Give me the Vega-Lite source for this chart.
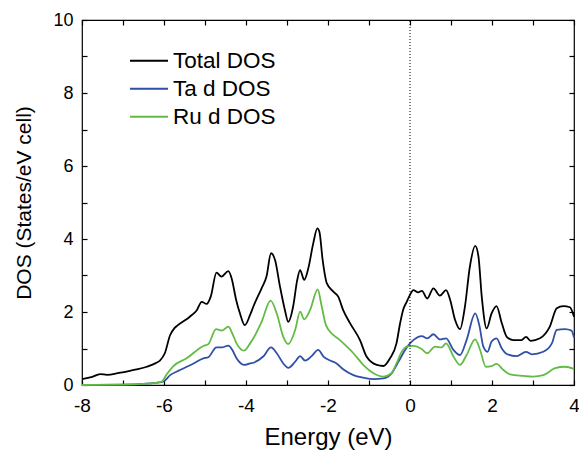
{
  "$schema": "https://vega.github.io/schema/vega-lite/v6.json",
  "width": 492,
  "height": 365,
  "autosize": "none",
  "padding": {"left": 82, "top": 20, "right": 5, "bottom": 70},
  "background": "white",
  "config": {
    "font": "Liberation Sans",
    "view": {"stroke": "black", "strokeWidth": 1.2},
    "axis": {
      "domain": false,
      "tickColor": "black",
      "labelColor": "black",
      "titleColor": "black",
      "grid": false,
      "labelFont": "Liberation Sans",
      "titleFont": "Liberation Sans",
      "labelFontSize": 18,
      "titleFontWeight": "normal",
      "ticks": true,
      "tickWidth": 1.2,
      "tickSize": 5,
      "offset": -5,
      "zindex": 1
    },
    "legend": {
      "labelFont": "Liberation Sans"
    }
  },
  "datasets": {
    "dos": [
      {"s": "Total DOS", "E": -8.0, "D": 0.16},
      {"s": "Total DOS", "E": -7.75, "D": 0.22},
      {"s": "Total DOS", "E": -7.56, "D": 0.30},
      {"s": "Total DOS", "E": -7.39, "D": 0.28},
      {"s": "Total DOS", "E": -7.1, "D": 0.33},
      {"s": "Total DOS", "E": -6.83, "D": 0.39},
      {"s": "Total DOS", "E": -6.42, "D": 0.50},
      {"s": "Total DOS", "E": -6.2, "D": 0.60},
      {"s": "Total DOS", "E": -6.1, "D": 0.67},
      {"s": "Total DOS", "E": -5.98, "D": 0.87},
      {"s": "Total DOS", "E": -5.85, "D": 1.37},
      {"s": "Total DOS", "E": -5.75, "D": 1.55},
      {"s": "Total DOS", "E": -5.66, "D": 1.64},
      {"s": "Total DOS", "E": -5.37, "D": 1.87},
      {"s": "Total DOS", "E": -5.2, "D": 2.05},
      {"s": "Total DOS", "E": -5.08, "D": 2.28},
      {"s": "Total DOS", "E": -4.96, "D": 2.22},
      {"s": "Total DOS", "E": -4.86, "D": 2.42},
      {"s": "Total DOS", "E": -4.72, "D": 3.08},
      {"s": "Total DOS", "E": -4.6, "D": 2.97},
      {"s": "Total DOS", "E": -4.43, "D": 3.12},
      {"s": "Total DOS", "E": -4.35, "D": 2.92},
      {"s": "Total DOS", "E": -4.24, "D": 2.33},
      {"s": "Total DOS", "E": -4.15, "D": 1.97},
      {"s": "Total DOS", "E": -4.03, "D": 1.64},
      {"s": "Total DOS", "E": -3.9, "D": 1.92},
      {"s": "Total DOS", "E": -3.82, "D": 2.15},
      {"s": "Total DOS", "E": -3.62, "D": 2.65},
      {"s": "Total DOS", "E": -3.5, "D": 2.97},
      {"s": "Total DOS", "E": -3.39, "D": 3.61},
      {"s": "Total DOS", "E": -3.29, "D": 3.42},
      {"s": "Total DOS", "E": -3.17, "D": 2.69},
      {"s": "Total DOS", "E": -3.05, "D": 2.05},
      {"s": "Total DOS", "E": -2.97, "D": 1.73},
      {"s": "Total DOS", "E": -2.85, "D": 2.15},
      {"s": "Total DOS", "E": -2.75, "D": 2.88},
      {"s": "Total DOS", "E": -2.68, "D": 3.15},
      {"s": "Total DOS", "E": -2.58, "D": 2.88},
      {"s": "Total DOS", "E": -2.48, "D": 3.2},
      {"s": "Total DOS", "E": -2.36, "D": 3.88},
      {"s": "Total DOS", "E": -2.26, "D": 4.29},
      {"s": "Total DOS", "E": -2.21, "D": 4.2},
      {"s": "Total DOS", "E": -2.13, "D": 3.42},
      {"s": "Total DOS", "E": -2.03, "D": 2.79},
      {"s": "Total DOS", "E": -1.87, "D": 2.56},
      {"s": "Total DOS", "E": -1.75, "D": 2.42},
      {"s": "Total DOS", "E": -1.63, "D": 2.05},
      {"s": "Total DOS", "E": -1.46, "D": 1.69},
      {"s": "Total DOS", "E": -1.22, "D": 1.23},
      {"s": "Total DOS", "E": -1.06, "D": 0.78},
      {"s": "Total DOS", "E": -0.81, "D": 0.55},
      {"s": "Total DOS", "E": -0.65, "D": 0.52},
      {"s": "Total DOS", "E": -0.49, "D": 0.73},
      {"s": "Total DOS", "E": -0.33, "D": 1.14},
      {"s": "Total DOS", "E": -0.24, "D": 1.7},
      {"s": "Total DOS", "E": -0.17, "D": 2.05},
      {"s": "Total DOS", "E": -0.08, "D": 2.28},
      {"s": "Total DOS", "E": 0.0, "D": 2.47},
      {"s": "Total DOS", "E": 0.08, "D": 2.6},
      {"s": "Total DOS", "E": 0.2, "D": 2.54},
      {"s": "Total DOS", "E": 0.29, "D": 2.58},
      {"s": "Total DOS", "E": 0.42, "D": 2.37},
      {"s": "Total DOS", "E": 0.57, "D": 2.65},
      {"s": "Total DOS", "E": 0.73, "D": 2.45},
      {"s": "Total DOS", "E": 0.88, "D": 2.6},
      {"s": "Total DOS", "E": 0.98, "D": 2.33},
      {"s": "Total DOS", "E": 1.1, "D": 1.78},
      {"s": "Total DOS", "E": 1.22, "D": 1.53},
      {"s": "Total DOS", "E": 1.34, "D": 2.15},
      {"s": "Total DOS", "E": 1.46, "D": 3.24},
      {"s": "Total DOS", "E": 1.59, "D": 3.81},
      {"s": "Total DOS", "E": 1.67, "D": 3.52},
      {"s": "Total DOS", "E": 1.75, "D": 2.42},
      {"s": "Total DOS", "E": 1.87, "D": 1.55},
      {"s": "Total DOS", "E": 1.99, "D": 1.96},
      {"s": "Total DOS", "E": 2.11, "D": 2.16},
      {"s": "Total DOS", "E": 2.24, "D": 1.69},
      {"s": "Total DOS", "E": 2.36, "D": 1.32},
      {"s": "Total DOS", "E": 2.52, "D": 1.23},
      {"s": "Total DOS", "E": 2.72, "D": 1.23},
      {"s": "Total DOS", "E": 2.83, "D": 1.32},
      {"s": "Total DOS", "E": 2.94, "D": 1.21},
      {"s": "Total DOS", "E": 3.17, "D": 1.28},
      {"s": "Total DOS", "E": 3.41, "D": 1.6},
      {"s": "Total DOS", "E": 3.58, "D": 2.1},
      {"s": "Total DOS", "E": 3.74, "D": 2.16},
      {"s": "Total DOS", "E": 3.9, "D": 2.13},
      {"s": "Total DOS", "E": 4.0, "D": 1.87},

      {"s": "Ta d DOS", "E": -8.0, "D": 0.0},
      {"s": "Ta d DOS", "E": -7.0, "D": 0.01},
      {"s": "Ta d DOS", "E": -6.5, "D": 0.03},
      {"s": "Ta d DOS", "E": -6.2, "D": 0.06},
      {"s": "Ta d DOS", "E": -6.02, "D": 0.09},
      {"s": "Ta d DOS", "E": -5.85, "D": 0.27},
      {"s": "Ta d DOS", "E": -5.61, "D": 0.41},
      {"s": "Ta d DOS", "E": -5.28, "D": 0.59},
      {"s": "Ta d DOS", "E": -5.04, "D": 0.73},
      {"s": "Ta d DOS", "E": -4.92, "D": 0.76},
      {"s": "Ta d DOS", "E": -4.72, "D": 1.03},
      {"s": "Ta d DOS", "E": -4.59, "D": 1.03},
      {"s": "Ta d DOS", "E": -4.43, "D": 1.08},
      {"s": "Ta d DOS", "E": -4.33, "D": 0.95},
      {"s": "Ta d DOS", "E": -4.23, "D": 0.73},
      {"s": "Ta d DOS", "E": -4.05, "D": 0.55},
      {"s": "Ta d DOS", "E": -3.9, "D": 0.59},
      {"s": "Ta d DOS", "E": -3.82, "D": 0.61},
      {"s": "Ta d DOS", "E": -3.58, "D": 0.78},
      {"s": "Ta d DOS", "E": -3.39, "D": 1.03},
      {"s": "Ta d DOS", "E": -3.25, "D": 0.87},
      {"s": "Ta d DOS", "E": -3.09, "D": 0.59},
      {"s": "Ta d DOS", "E": -2.97, "D": 0.47},
      {"s": "Ta d DOS", "E": -2.8, "D": 0.64},
      {"s": "Ta d DOS", "E": -2.68, "D": 0.79},
      {"s": "Ta d DOS", "E": -2.56, "D": 0.67},
      {"s": "Ta d DOS", "E": -2.4, "D": 0.79},
      {"s": "Ta d DOS", "E": -2.24, "D": 0.96},
      {"s": "Ta d DOS", "E": -2.11, "D": 0.78},
      {"s": "Ta d DOS", "E": -1.95, "D": 0.67},
      {"s": "Ta d DOS", "E": -1.79, "D": 0.59},
      {"s": "Ta d DOS", "E": -1.63, "D": 0.43},
      {"s": "Ta d DOS", "E": -1.38, "D": 0.27},
      {"s": "Ta d DOS", "E": -1.14, "D": 0.2},
      {"s": "Ta d DOS", "E": -0.89, "D": 0.16},
      {"s": "Ta d DOS", "E": -0.65, "D": 0.18},
      {"s": "Ta d DOS", "E": -0.45, "D": 0.32},
      {"s": "Ta d DOS", "E": -0.28, "D": 0.64},
      {"s": "Ta d DOS", "E": -0.12, "D": 0.96},
      {"s": "Ta d DOS", "E": 0.0, "D": 1.14},
      {"s": "Ta d DOS", "E": 0.08, "D": 1.23},
      {"s": "Ta d DOS", "E": 0.29, "D": 1.34},
      {"s": "Ta d DOS", "E": 0.42, "D": 1.28},
      {"s": "Ta d DOS", "E": 0.57, "D": 1.39},
      {"s": "Ta d DOS", "E": 0.73, "D": 1.25},
      {"s": "Ta d DOS", "E": 0.88, "D": 1.28},
      {"s": "Ta d DOS", "E": 1.06, "D": 0.96},
      {"s": "Ta d DOS", "E": 1.22, "D": 0.82},
      {"s": "Ta d DOS", "E": 1.38, "D": 1.23},
      {"s": "Ta d DOS", "E": 1.59, "D": 1.96},
      {"s": "Ta d DOS", "E": 1.69, "D": 1.64},
      {"s": "Ta d DOS", "E": 1.79, "D": 1.05},
      {"s": "Ta d DOS", "E": 1.89, "D": 0.91},
      {"s": "Ta d DOS", "E": 1.99, "D": 1.19},
      {"s": "Ta d DOS", "E": 2.11, "D": 1.28},
      {"s": "Ta d DOS", "E": 2.24, "D": 1.0},
      {"s": "Ta d DOS", "E": 2.36, "D": 0.85},
      {"s": "Ta d DOS", "E": 2.6, "D": 0.79},
      {"s": "Ta d DOS", "E": 2.83, "D": 0.91},
      {"s": "Ta d DOS", "E": 2.97, "D": 0.84},
      {"s": "Ta d DOS", "E": 3.25, "D": 0.91},
      {"s": "Ta d DOS", "E": 3.46, "D": 1.14},
      {"s": "Ta d DOS", "E": 3.58, "D": 1.51},
      {"s": "Ta d DOS", "E": 3.78, "D": 1.53},
      {"s": "Ta d DOS", "E": 3.94, "D": 1.49},
      {"s": "Ta d DOS", "E": 4.0, "D": 1.3},

      {"s": "Ru d DOS", "E": -8.0, "D": 0.0},
      {"s": "Ru d DOS", "E": -7.0, "D": 0.01},
      {"s": "Ru d DOS", "E": -6.5, "D": 0.03},
      {"s": "Ru d DOS", "E": -6.2, "D": 0.06},
      {"s": "Ru d DOS", "E": -6.06, "D": 0.09},
      {"s": "Ru d DOS", "E": -5.93, "D": 0.30},
      {"s": "Ru d DOS", "E": -5.77, "D": 0.52},
      {"s": "Ru d DOS", "E": -5.45, "D": 0.73},
      {"s": "Ru d DOS", "E": -5.04, "D": 1.07},
      {"s": "Ru d DOS", "E": -4.92, "D": 1.12},
      {"s": "Ru d DOS", "E": -4.73, "D": 1.53},
      {"s": "Ru d DOS", "E": -4.59, "D": 1.49},
      {"s": "Ru d DOS", "E": -4.43, "D": 1.6},
      {"s": "Ru d DOS", "E": -4.33, "D": 1.4},
      {"s": "Ru d DOS", "E": -4.23, "D": 1.14},
      {"s": "Ru d DOS", "E": -4.05, "D": 0.94},
      {"s": "Ru d DOS", "E": -3.9, "D": 1.14},
      {"s": "Ru d DOS", "E": -3.82, "D": 1.28},
      {"s": "Ru d DOS", "E": -3.62, "D": 1.73},
      {"s": "Ru d DOS", "E": -3.4, "D": 2.31},
      {"s": "Ru d DOS", "E": -3.25, "D": 1.96},
      {"s": "Ru d DOS", "E": -3.09, "D": 1.32},
      {"s": "Ru d DOS", "E": -2.97, "D": 1.12},
      {"s": "Ru d DOS", "E": -2.8, "D": 1.51},
      {"s": "Ru d DOS", "E": -2.68, "D": 2.01},
      {"s": "Ru d DOS", "E": -2.58, "D": 1.8},
      {"s": "Ru d DOS", "E": -2.44, "D": 2.05},
      {"s": "Ru d DOS", "E": -2.25, "D": 2.62},
      {"s": "Ru d DOS", "E": -2.16, "D": 2.19},
      {"s": "Ru d DOS", "E": -2.05, "D": 1.64},
      {"s": "Ru d DOS", "E": -1.87, "D": 1.37},
      {"s": "Ru d DOS", "E": -1.71, "D": 1.23},
      {"s": "Ru d DOS", "E": -1.54, "D": 1.05},
      {"s": "Ru d DOS", "E": -1.38, "D": 0.87},
      {"s": "Ru d DOS", "E": -1.14, "D": 0.55},
      {"s": "Ru d DOS", "E": -0.89, "D": 0.32},
      {"s": "Ru d DOS", "E": -0.65, "D": 0.23},
      {"s": "Ru d DOS", "E": -0.45, "D": 0.32},
      {"s": "Ru d DOS", "E": -0.33, "D": 0.59},
      {"s": "Ru d DOS", "E": -0.2, "D": 0.91},
      {"s": "Ru d DOS", "E": -0.08, "D": 1.05},
      {"s": "Ru d DOS", "E": 0.08, "D": 1.07},
      {"s": "Ru d DOS", "E": 0.29, "D": 0.98},
      {"s": "Ru d DOS", "E": 0.42, "D": 0.87},
      {"s": "Ru d DOS", "E": 0.61, "D": 1.05},
      {"s": "Ru d DOS", "E": 0.77, "D": 1.03},
      {"s": "Ru d DOS", "E": 0.88, "D": 1.14},
      {"s": "Ru d DOS", "E": 1.06, "D": 0.78},
      {"s": "Ru d DOS", "E": 1.22, "D": 0.55},
      {"s": "Ru d DOS", "E": 1.38, "D": 0.82},
      {"s": "Ru d DOS", "E": 1.59, "D": 1.25},
      {"s": "Ru d DOS", "E": 1.71, "D": 0.96},
      {"s": "Ru d DOS", "E": 1.85, "D": 0.5},
      {"s": "Ru d DOS", "E": 1.99, "D": 0.52},
      {"s": "Ru d DOS", "E": 2.11, "D": 0.58},
      {"s": "Ru d DOS", "E": 2.28, "D": 0.41},
      {"s": "Ru d DOS", "E": 2.44, "D": 0.29},
      {"s": "Ru d DOS", "E": 2.76, "D": 0.25},
      {"s": "Ru d DOS", "E": 3.0, "D": 0.23},
      {"s": "Ru d DOS", "E": 3.25, "D": 0.27},
      {"s": "Ru d DOS", "E": 3.54, "D": 0.46},
      {"s": "Ru d DOS", "E": 3.78, "D": 0.5},
      {"s": "Ru d DOS", "E": 4.0, "D": 0.44}
    ],
    "fermi": [{"E": 0}]
  },
  "layer": [
    {
      "data": {"name": "dos"},
      "mark": {"type": "line", "interpolate": "monotone", "strokeWidth": 1.8},
      "encoding": {
        "x": {
          "field": "E", "type": "quantitative",
          "scale": {"domain": [-8, 4], "nice": false},
          "axis": {
            "orient": "bottom",
            "title": "Energy (eV)",
            "titleFontSize": 24,
            "titlePadding": 10,
            "values": [-8, -7, -6, -5, -4, -3, -2, -1, 0, 1, 2, 3, 4],
            "labelExpr": "datum.value % 2 === 0 ? '' + datum.value : ''",
            "labelPadding": 11,
            "labelFontSize": 19,
            "labelFlush": false
          }
        },
        "y": {
          "field": "D", "type": "quantitative",
          "scale": {"domain": [0, 10], "nice": false},
          "axis": {
            "orient": "left",
            "title": "DOS (States/eV cell)",
            "titleFontSize": 21,
            "titlePadding": 18,
            "values": [0, 1, 2, 3, 4, 5, 6, 7, 8, 9, 10],
            "labelExpr": "datum.value % 2 === 0 ? '' + datum.value : ''",
            "labelPadding": 9,
            "labelFlush": false
          }
        },
        "color": {
          "field": "s", "type": "nominal",
          "scale": {
            "domain": ["Total DOS", "Ta d DOS", "Ru d DOS"],
            "range": ["#000000", "#2f4fa8", "#63bb45"]
          },
          "sort": ["Total DOS", "Ta d DOS", "Ru d DOS"],
          "legend": {
            "title": null,
            "orient": "none",
            "legendX": 47,
            "legendY": 27,
            "symbolType": "stroke",
            "symbolSize": 1444,
            "symbolStrokeWidth": 2,
            "labelFontSize": 22.5,
            "labelOffset": 4,
            "clipHeight": 27.5,
            "rowPadding": 0,
            "labelColor": "black",
            "padding": 0
          }
        }
      }
    },
    {
      "data": {"name": "fermi"},
      "mark": {"type": "rule", "color": "black", "strokeWidth": 1, "strokeDash": [1, 2]},
      "encoding": {
        "x": {
          "field": "E", "type": "quantitative",
          "axis": {
            "orient": "top",
            "title": null,
            "values": [-8, -7, -6, -5, -4, -3, -2, -1, 0, 1, 2, 3, 4],
            "labels": false
          }
        },
        "y": {
          "datum": 0,
          "type": "quantitative",
          "axis": {
            "orient": "right",
            "title": null,
            "values": [0, 1, 2, 3, 4, 5, 6, 7, 8, 9, 10],
            "labels": false
          }
        },
        "y2": {"datum": 10}
      }
    }
  ],
  "resolve": {"axis": {"x": "independent", "y": "independent"}}
}
